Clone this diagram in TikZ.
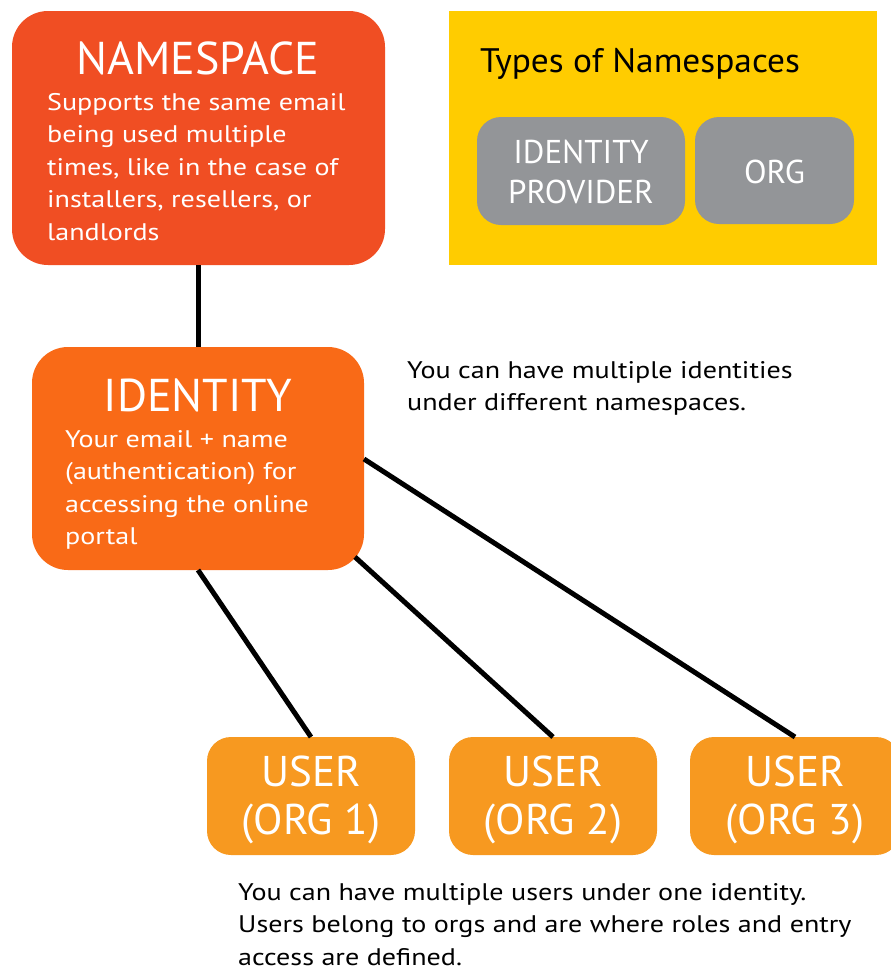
\documentclass[tikz,border=0pt]{standalone}
\usepackage{fontspec}
\setmainfont{PT Sans}
\newfontfamily\bodyfont[FakeStretch=1.17]{PT Sans}
\newfontfamily\headfont[FakeStretch=1.04]{PT Sans}
\definecolor{nsred}{RGB}{240,78,35}
\definecolor{idorange}{RGB}{249,106,23}
\definecolor{userorange}{RGB}{247,153,32}
\definecolor{typeyellow}{RGB}{255,204,0}
\definecolor{typegray}{RGB}{147,149,152}
\tikzset{
  card/.style={rounded corners=#1, draw=none},
  link/.style={line width=5pt, black},
  bodytext/.style={anchor=base west, inner sep=0pt, text=white, font=\bodyfont\fontsize{24}{32.5}\selectfont},
  titletext/.style={anchor=base, inner sep=0pt, text=white, font=\fontsize{46}{46}\selectfont},
  usertext/.style={align=center, text=white, inner sep=0pt, font=\fontsize{43}{48}\selectfont},
  graytext/.style={align=center, text=white, inner sep=0pt, font=\fontsize{33}{40}\selectfont},
  notetext/.style={anchor=base west, inner sep=0pt, text=black, align=left, font=\bodyfont\fontsize{24}{32.5}\selectfont},
}
\begin{document}
\begin{tikzpicture}[x=1pt,y=-1pt]
\useasboundingbox (0,0) rectangle (891,970);

% cards
\path[fill=nsred, card=36pt] (12,11) rectangle (385,265);
\coordinate (nsbot) at (198,265);
\path[fill=idorange, card=36pt] (32,347) rectangle (364,570);
\coordinate (idtop) at (198,347);

% yellow panel with namespace types
\path[fill=typeyellow] (449,11) rectangle (877,265);
\path[fill=typegray, card=24pt] (477,117) rectangle (685,225);
\path[fill=typegray, card=24pt] (695,117) rectangle (854,224);

% user cards
\path[fill=userorange, card=24pt] (207,737) rectangle (415,855);
\path[fill=userorange, card=24pt] (449,737) rectangle (657,855);
\path[fill=userorange, card=24pt] (690,737) rectangle (900,855);

% connector endpoints
\coordinate (idbl) at (198,570);
\coordinate (idbr) at (355,557);
\coordinate (idr) at (364,459);
\coordinate (u1) at (311,737);
\coordinate (u2) at (553,737);
\coordinate (u3) at (795,737);

\draw[link] (nsbot) -- (idtop);
\draw[link] (idbl) -- (u1);
\draw[link] (idbr) -- (u2);
\draw[link] (idr) -- (u3);

% NAMESPACE card text
\node[titletext] (nstitle) at (198,74) {NAMESPACE};
\node[bodytext] (ns1) at (47,110) {Supports the same email};
\node[bodytext] (ns2) at (47,142.5) {being used multiple};
\node[bodytext] (ns3) at (47,175) {times, like in the case of};
\node[bodytext] (ns4) at (47,207.5) {installers, resellers, or};
\node[bodytext] (ns5) at (47,240) {landlords};

% IDENTITY card text
\node[titletext] (idtitle) at (198,411) {IDENTITY};
\node[bodytext] (id1) at (65,447) {Your email + name};
\node[bodytext] (id2) at (65,479.5) {(authentication) for};
\node[bodytext] (id3) at (65,512) {accessing the online};
\node[bodytext] (id4) at (65,544.5) {portal};

% types panel text
\node[anchor=base west, inner sep=0pt, font=\headfont\fontsize{34}{34}\selectfont] (types) at (480,72) {Types of Namespaces};
\node[graytext] (idp) at (581,172) {IDENTITY\\PROVIDER};
\node[graytext] (org) at (774.5,172) {ORG};

% user card text
\node[usertext] (user1) at (311,800) {USER\\(ORG 1)};
\node[usertext] (user2) at (553,800) {USER\\(ORG 2)};
\node[usertext] (user3) at (795,800) {USER\\(ORG 3)};

% notes
\node[notetext] (note1) at (407,378) {You can have multiple identities};
\node[notetext] (note1b) at (407,410.5) {under different namespaces.};
\node[notetext] (note2) at (238,900) {You can have multiple users under one identity.};
\node[notetext] (note2b) at (238,932.5) {Users belong to orgs and are where roles and entry};
\node[notetext] (note2c) at (238,965) {access are defined.};
\end{tikzpicture}
\end{document}
